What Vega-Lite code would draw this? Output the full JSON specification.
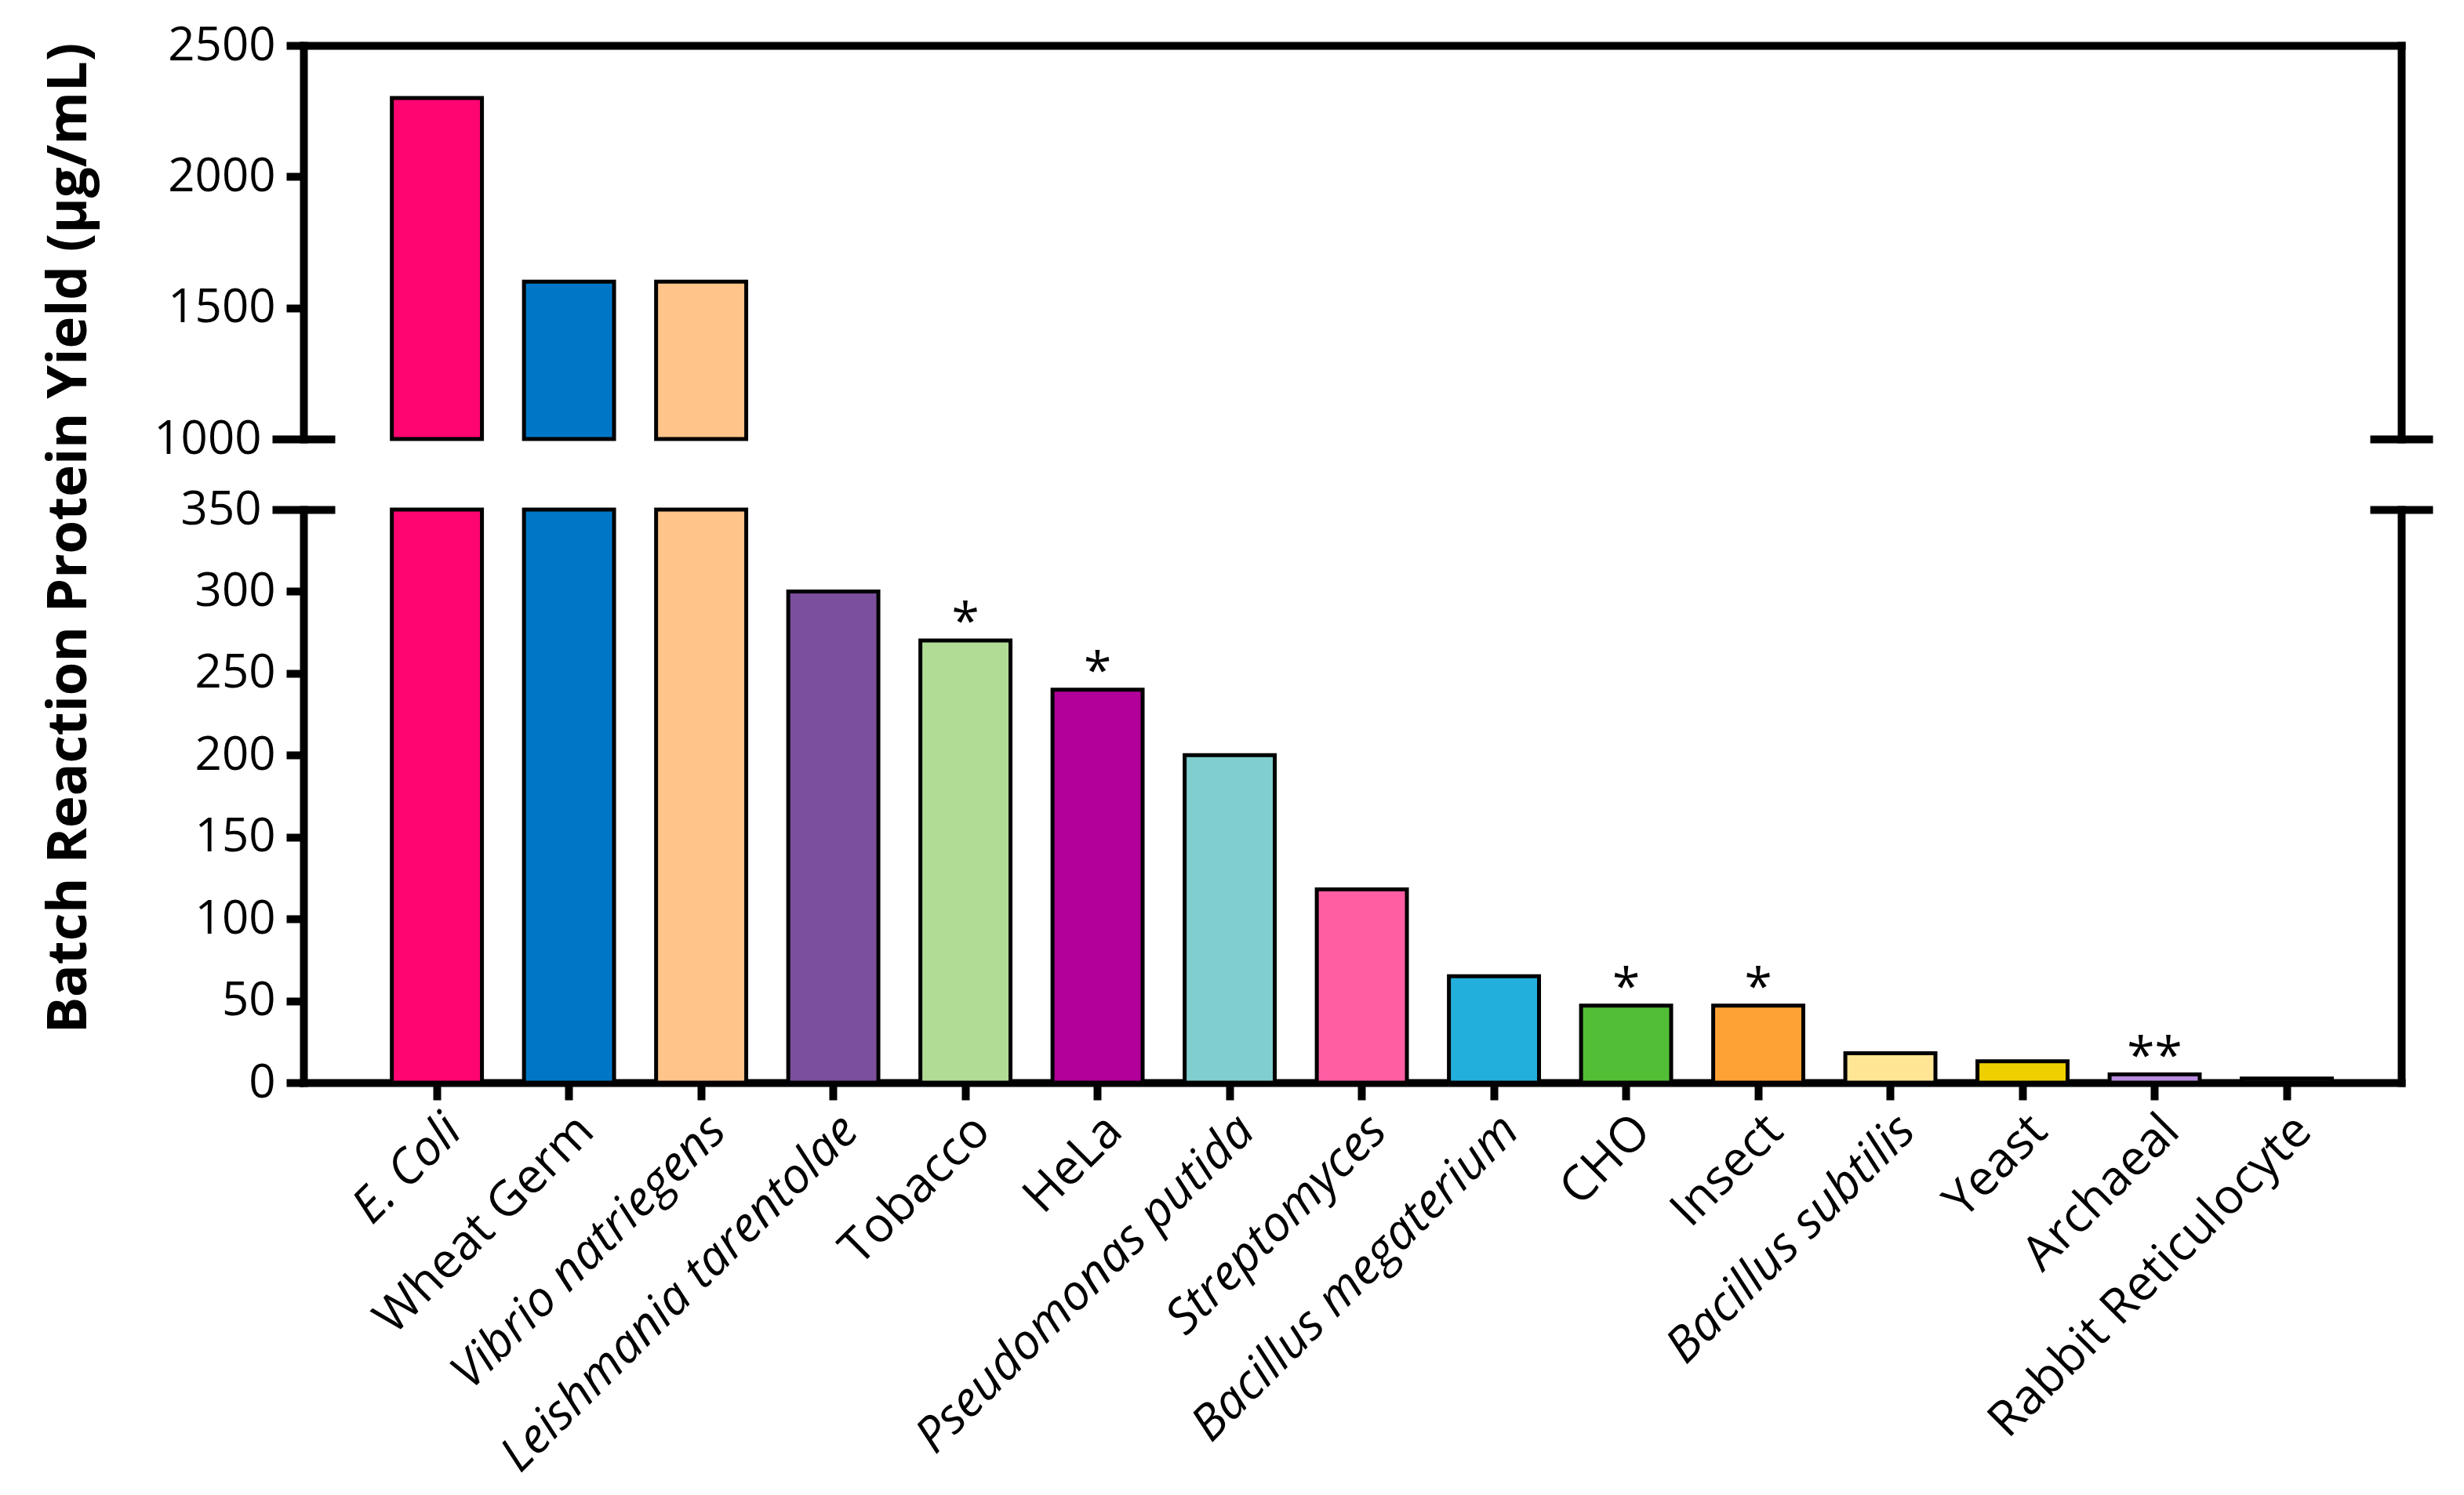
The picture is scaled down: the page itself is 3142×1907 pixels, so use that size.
{
  "$schema": "https://vega.github.io/schema/vega-lite/v6.json",
  "background": "white",
  "autosize": {"type": "pad"},
  "padding": {"left": 53, "top": 28, "right": 0, "bottom": 0},
  "bounds": "flush",
  "spacing": 90,
  "config": {
    "view": {"stroke": null},
    "font": "Open Sans",
    "axis": {"labelFont": "Open Sans", "titleFont": "Open Sans", "labelColor": "black", "titleColor": "black", "domainCap": "square"}
  },
  "datasets": {
    "cf": [
      {"system": "E. Coli", "yield": 2300, "note": ""},
      {"system": "Wheat Germ", "yield": 1600, "note": ""},
      {"system": "Vibrio natriegens", "yield": 1600, "note": ""},
      {"system": "Leishmania tarentolae", "yield": 300, "note": ""},
      {"system": "Tobacco", "yield": 270, "note": "*"},
      {"system": "HeLa", "yield": 240, "note": "*"},
      {"system": "Pseudomonas putida", "yield": 200, "note": ""},
      {"system": "Streptomyces", "yield": 118, "note": ""},
      {"system": "Bacillus megaterium", "yield": 65, "note": ""},
      {"system": "CHO", "yield": 47, "note": "*"},
      {"system": "Insect", "yield": 47, "note": "*"},
      {"system": "Bacillus subtilis", "yield": 18, "note": ""},
      {"system": "Yeast", "yield": 13, "note": ""},
      {"system": "Archaeal", "yield": 5, "note": "**"},
      {"system": "Rabbit Reticulocyte", "yield": 2.5, "note": ""}
    ]
  },
  "vconcat": [
    {
      "width": 2675,
      "height": 502,
      "data": {"name": "cf"},
      "transform": [{"filter": "datum.yield > 1000"}],
      "layer": [
        {
          "mark": {"type": "bar", "stroke": "black", "strokeWidth": 5},
          "encoding": {
            "x": {
              "field": "system", "type": "nominal", "sort": null,
              "scale": {
                "domain": ["E. Coli", "Wheat Germ", "Vibrio natriegens", "Leishmania tarentolae", "Tobacco", "HeLa", "Pseudomonas putida", "Streptomyces", "Bacillus megaterium", "CHO", "Insect", "Bacillus subtilis", "Yeast", "Archaeal", "Rabbit Reticulocyte"],
                "paddingInner": 0.318, "paddingOuter": 0.597, "align": 0.56
              },
              "axis": null
            },
            "y": {
              "field": "yield", "type": "quantitative",
              "scale": {"domain": [1000, 2500], "nice": false, "zero": false},
              "axis": {
                "orient": "left",
                "values": [1000, 1500, 2000, 2500],
                "format": "d",
                "title": null,
                "domainWidth": 10, "domainColor": "black",
                "tickWidth": 10, "tickColor": "black",
                "tickSize": {"condition": {"test": "datum.value == 1000", "value": 40}, "value": 22},
                "grid": true, "gridColor": "black", "gridWidth": 10, "gridDash": [40, 5000],
                "gridOpacity": {"condition": {"test": "datum.value == 1000", "value": 1}, "value": 0},
                "labelFontSize": 60, "labelPadding": 14, "labelOverlap": false, "labelFlush": false
              }
            },
            "y2": {"datum": 1000},
            "color": {
              "field": "system", "type": "nominal", "legend": null,
              "scale": {
                "domain": ["E. Coli", "Wheat Germ", "Vibrio natriegens", "Leishmania tarentolae", "Tobacco", "HeLa", "Pseudomonas putida", "Streptomyces", "Bacillus megaterium", "CHO", "Insect", "Bacillus subtilis", "Yeast", "Archaeal", "Rabbit Reticulocyte"],
                "range": ["#FF0572", "#0077C6", "#FFC489", "#7B4F9C", "#B0DC96", "#B2009A", "#80CECE", "#FF5EA3", "#22AFDB", "#52BE36", "#FFA235", "#FFE594", "#EED000", "#B98CDF", "#333333"]
              }
            }
          }
        },
        {
          "mark": {"type": "point", "opacity": 0},
          "encoding": {
            "x": {
              "field": "system", "type": "nominal", "sort": null,
              "axis": {"orient": "top", "labels": false, "ticks": false, "title": null, "domainWidth": 10, "domainColor": "black"}
            },
            "y": {
              "field": "yield", "type": "quantitative",
              "axis": {
                "orient": "right", "values": [1000], "labels": false, "title": null,
                "domainWidth": 10, "domainColor": "black",
                "tickSize": 40, "tickWidth": 10, "tickColor": "black",
                "grid": true, "gridDash": [40, 5000], "gridWidth": 10, "gridColor": "black", "gridOpacity": 1
              }
            }
          }
        }
      ],
      "resolve": {"axis": {"x": "independent", "y": "independent"}}
    },
    {
      "width": 2675,
      "height": 731,
      "data": {"name": "cf"},
      "layer": [
        {
          "mark": {"type": "bar", "stroke": "black", "strokeWidth": 5},
          "encoding": {
            "x": {
              "field": "system", "type": "nominal", "sort": null,
              "scale": {
                "domain": ["E. Coli", "Wheat Germ", "Vibrio natriegens", "Leishmania tarentolae", "Tobacco", "HeLa", "Pseudomonas putida", "Streptomyces", "Bacillus megaterium", "CHO", "Insect", "Bacillus subtilis", "Yeast", "Archaeal", "Rabbit Reticulocyte"],
                "paddingInner": 0.318, "paddingOuter": 0.597, "align": 0.56
              },
              "axis": {
                "orient": "bottom", "title": null,
                "domainWidth": 10, "domainColor": "black",
                "tickSize": 22, "tickWidth": 10, "tickColor": "black",
                "labelAngle": -45, "labelAlign": "right", "labelBaseline": "top",
                "labelFontSize": 62, "labelPadding": 8, "labelOverlap": false, "labelLimit": 1000,
                "labelFontStyle": {
                  "condition": {"test": "indexof(['E. Coli', 'Vibrio natriegens', 'Leishmania tarentolae', 'Pseudomonas putida', 'Streptomyces', 'Bacillus megaterium', 'Bacillus subtilis'], datum.value) >= 0", "value": "italic"},
                  "value": "normal"
                }
              }
            },
            "y": {
              "field": "yield", "type": "quantitative",
              "scale": {"domain": [0, 350], "nice": false, "clamp": true},
              "axis": {
                "orient": "left",
                "values": [0, 50, 100, 150, 200, 250, 300, 350],
                "format": "d",
                "title": "Batch Reaction Protein Yield (µg/mL)",
                "titleFontSize": 69, "titleFontWeight": "bold",
                "titleAngle": -90, "titleAlign": "center", "titleBaseline": "alphabetic",
                "titleX": -278, "titleY": 36,
                "domainWidth": 10, "domainColor": "black",
                "tickWidth": 10, "tickColor": "black",
                "tickSize": {"condition": {"test": "datum.value == 350", "value": 40}, "value": 22},
                "grid": true, "gridColor": "black", "gridWidth": 10, "gridDash": [40, 5000],
                "gridOpacity": {"condition": {"test": "datum.value == 350", "value": 1}, "value": 0},
                "labelFontSize": 60, "labelPadding": 14, "labelOverlap": false, "labelFlush": false
              }
            },
            "color": {
              "field": "system", "type": "nominal", "legend": null,
              "scale": {
                "domain": ["E. Coli", "Wheat Germ", "Vibrio natriegens", "Leishmania tarentolae", "Tobacco", "HeLa", "Pseudomonas putida", "Streptomyces", "Bacillus megaterium", "CHO", "Insect", "Bacillus subtilis", "Yeast", "Archaeal", "Rabbit Reticulocyte"],
                "range": ["#FF0572", "#0077C6", "#FFC489", "#7B4F9C", "#B0DC96", "#B2009A", "#80CECE", "#FF5EA3", "#22AFDB", "#52BE36", "#FFA235", "#FFE594", "#EED000", "#B98CDF", "#333333"]
              }
            }
          }
        },
        {
          "mark": {"type": "text", "fontSize": 64, "baseline": "alphabetic", "dy": -2, "color": "black"},
          "encoding": {
            "x": {"field": "system", "type": "nominal", "sort": null, "axis": null},
            "y": {
              "field": "yield", "type": "quantitative",
              "axis": {
                "orient": "right", "values": [350], "labels": false, "title": null,
                "domainWidth": 10, "domainColor": "black",
                "tickSize": 40, "tickWidth": 10, "tickColor": "black",
                "grid": true, "gridDash": [40, 5000], "gridWidth": 10, "gridColor": "black", "gridOpacity": 1
              }
            },
            "text": {"field": "note"}
          }
        }
      ],
      "resolve": {"axis": {"x": "independent", "y": "independent"}}
    }
  ]
}
